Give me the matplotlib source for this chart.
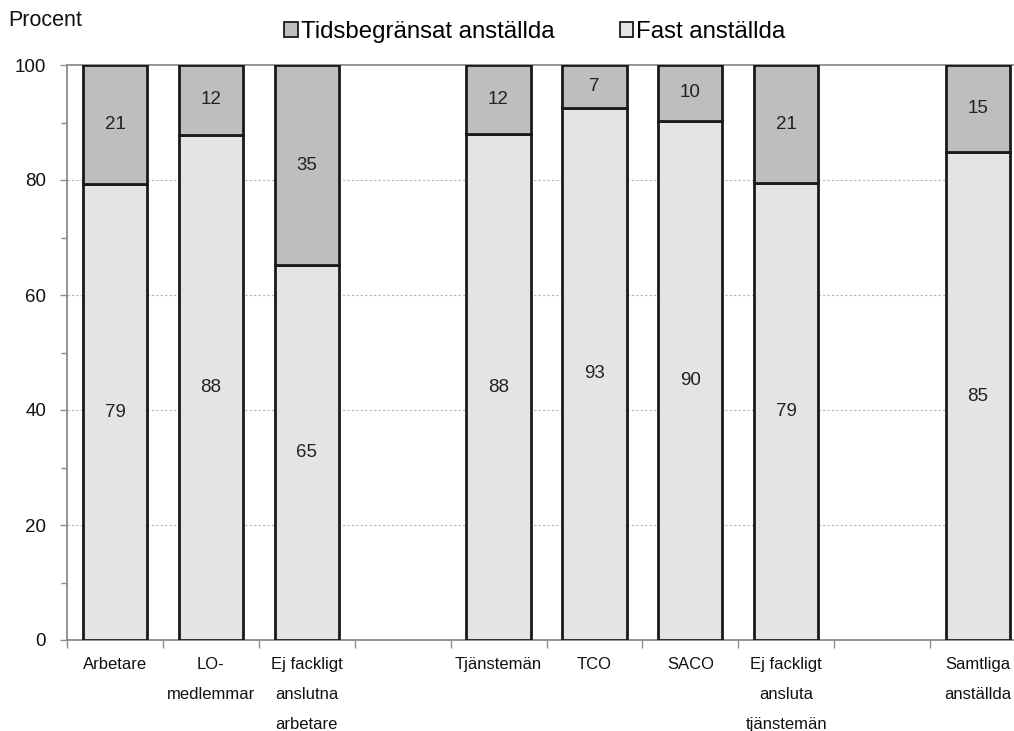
import matplotlib
matplotlib.use("Agg")
import matplotlib.pyplot as plt
from matplotlib.ticker import MultipleLocator, FixedLocator
from matplotlib.patches import Patch

plt.rcParams['font.family'] = ['Liberation Sans', 'DejaVu Sans']

categories = ["Arbetare", "LO-\nmedlemmar", "Ej fackligt\nanslutna\narbetare", "",
              "Tjänstemän", "TCO", "SACO", "Ej fackligt\nansluta\ntjänstemän", "",
              "Samtliga\nanställda"]
fast = [79.3, 87.9, 65.2, None, 88.0, 92.6, 90.3, 79.4, None, 84.8]
tids = [20.7, 12.1, 34.8, None, 12.0, 7.4, 9.7, 20.6, None, 15.2]
fast_labels = ["79", "88", "65", "", "88", "93", "90", "79", "", "85"]
tids_labels = ["21", "12", "35", "", "12", "7", "10", "21", "", "15"]
yticks = [0, 20, 40, 60, 80, 100]

c_tids = "#BEBEBF"
c_fast = "#E3E4E3"
c_edge = "#1A1A1A"
c_axis = "#8C8C8C"

fig = plt.figure(figsize=(10.14, 7.31), dpi=100)
ax = fig.add_axes([67/1014, 1-640/731, (1026-67)/1014, (640-65)/731])

for i, (f, t) in enumerate(zip(fast, tids)):
    if f is None:
        continue
    ax.bar(i, f, width=0.67, color=c_fast, edgecolor=c_edge, linewidth=2.0, zorder=3)
    ax.bar(i, t, bottom=f, width=0.67, color=c_tids, edgecolor=c_edge, linewidth=2.0, zorder=3)
    ax.text(i, f/2, fast_labels[i], ha='center', va='center', fontsize=13.5, color='#222222', zorder=4)
    ax.text(i, f + t/2, tids_labels[i], ha='center', va='center', fontsize=13.5, color='#222222', zorder=4)

ax.set_xlim(-0.5, len(categories) - 0.5)
ax.set_ylim(0, 100)

ax.yaxis.set_major_locator(FixedLocator(yticks))
ax.yaxis.set_minor_locator(MultipleLocator(10))
ax.tick_params(axis='y', which='major', length=5, width=1, color=c_axis, labelsize=13.5, pad=10, labelcolor='#111111')
ax.tick_params(axis='y', which='minor', length=4, width=1, color=c_axis)

ax.xaxis.set_major_locator(FixedLocator([i - 0.5 for i in range(len(categories) + 1)]))
ax.xaxis.set_minor_locator(FixedLocator(list(range(len(categories)))))
ax.set_xticklabels([], minor=False)
ax.set_xticklabels(categories, minor=True, fontsize=12, linespacing=2.25, va='top')
ax.tick_params(axis='x', which='major', length=6, width=1, color=c_axis)
ax.tick_params(axis='x', which='minor', length=0, pad=12, labelcolor='#111111')

for y in yticks[1:-1]:
    ax.axhline(y, color='#B5B5B5', linestyle=(0, (2, 2)), linewidth=0.8, zorder=1)

for s in ['left', 'bottom', 'top']:
    ax.spines[s].set_color(c_axis)
    ax.spines[s].set_linewidth(1.3)
ax.spines['right'].set_visible(False)

handles = [Patch(facecolor=c_tids, edgecolor=c_edge, linewidth=1.3, label="Tidsbegränsat anställda"),
           Patch(facecolor=c_fast, edgecolor=c_edge, linewidth=1.3, label="Fast anställda")]
fig.legend(handles=handles, loc='center', bbox_to_anchor=(535/1014, 1-32/731), ncol=2,
           frameon=False, fontsize=17.3, handlelength=0.55, handleheight=0.55,
           handletextpad=0.15, columnspacing=2.7)

fig.text(8/1014, 1-21/731, "Procent", ha='left', va='center', fontsize=15.5, color='#111111')

fig.savefig("out.png", dpi=100)
